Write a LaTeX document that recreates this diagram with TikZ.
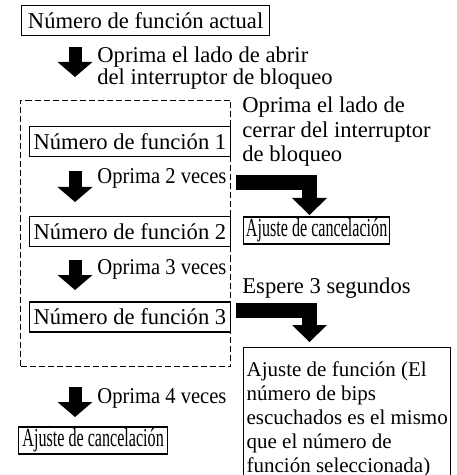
\documentclass[tikz,border=0pt]{standalone}
\usepackage{fontspec}
\setmainfont{Liberation Serif}
\usepackage{graphicx}
\usetikzlibrary{arrows.meta}

\tikzset{
  box/.style={draw, line width=0.6pt, inner xsep=2pt, inner ysep=0pt, minimum height=15pt, anchor=west},
  cancelbox/.style={draw, line width=0.6pt, inner xsep=1pt, inner ysep=0pt, minimum height=13.5pt,
    anchor=west, font=\fontsize{13}{13}\selectfont},
  note/.style={anchor=base west, inner sep=0pt, align=left},
  blockarrow/.style={line width=6.5pt, -{Triangle[length=7.5pt, width=17.5pt, line width=0pt]}},
  bentarrow/.style={line width=7.5pt, line join=miter, -{Triangle[length=8.5pt, width=17.5pt, line width=0pt]}},
}
\newcommand{\narrowtext}[2]{\scalebox{#1}[1]{#2}}

\begin{document}
\begin{tikzpicture}[x=0.5pt, y=-0.5pt, font=\fontsize{11.3}{11}\selectfont]
  % Page size of the reference
  \useasboundingbox (0,0) rectangle (456,475);
  \clip (0,0) rectangle (456,475);

  % Group of function numbers
  \node[draw, line width=0.5pt, dash pattern=on 3pt off 1.5pt, minimum width=105pt,
        minimum height=133pt, anchor=north west, inner sep=0pt] (grp) at (20,100) {};

  % Boxes
  \node[box, minimum width=124pt] (actual) at (21,20.5) {Número de función actual};
  \node[box, minimum width=99pt] (fn1) at (29,141.5) {Número de función 1};
  \node[box, minimum width=96pt] (fn2) at (29,231.5) {Número de función 2};
  \node[box, minimum width=96pt] (fn3) at (29,317) {Número de función 3};
  \node[cancelbox, minimum width=73pt] (cancelR) at (243,230.5) {\narrowtext{0.62}{Ajuste de cancelación}};
  \node[cancelbox, minimum width=74.5pt] (cancelL) at (18,440.5) {\narrowtext{0.62}{Ajuste de cancelación}};
  \node[draw, line width=0.6pt, anchor=north west, inner xsep=1.5pt, inner ysep=7pt,
        align=left, font=\fontsize{10.5}{12}\selectfont] (setfn) at (243,347)
        {Ajuste de función (El\\número de bips\\escuchados es el mismo\\que el número de\\función seleccionada)};

  % Step texts
  \node[note] (t1) at (97,85) {Oprima el lado de abrir\\del interruptor de bloqueo};
  \node[note, font=\fontsize{11.3}{12.25}\selectfont] (t2) at (242,162) {Oprima el lado de\\cerrar del interruptor\\de bloqueo};
  \node[note] (t3) at (97,184) {\narrowtext{0.91}{Oprima 2 veces}};
  \node[note] (t4) at (97,274) {\narrowtext{0.91}{Oprima 3 veces}};
  \node[note] (t5) at (242,293) {Espere 3 segundos};
  \node[note] (t6) at (97,403) {\narrowtext{0.91}{Oprima 4 veces}};

  % Arrow ends
  \coordinate (a1s) at (75,47);   \coordinate (a1e) at (75,77);
  \coordinate (a2s) at (75,171);  \coordinate (a2e) at (75,202);
  \coordinate (a3s) at (75,260);  \coordinate (a3e) at (75,290);
  \coordinate (a4s) at (75,387);  \coordinate (a4e) at (75,417);
  \coordinate (b1s) at (236,182.5); \coordinate (b1e) at (309.5,215);
  \coordinate (b2s) at (236,310);   \coordinate (b2e) at (309.5,342);

  % Block arrows
  \draw[blockarrow] (a1s) -- (a1e);
  \draw[blockarrow] (a2s) -- (a2e);
  \draw[blockarrow] (a3s) -- (a3e);
  \draw[blockarrow] (a4s) -- (a4e);
  \draw[bentarrow] (b1s) -| (b1e);
  \draw[bentarrow] (b2s) -| (b2e);
\end{tikzpicture}
\end{document}
